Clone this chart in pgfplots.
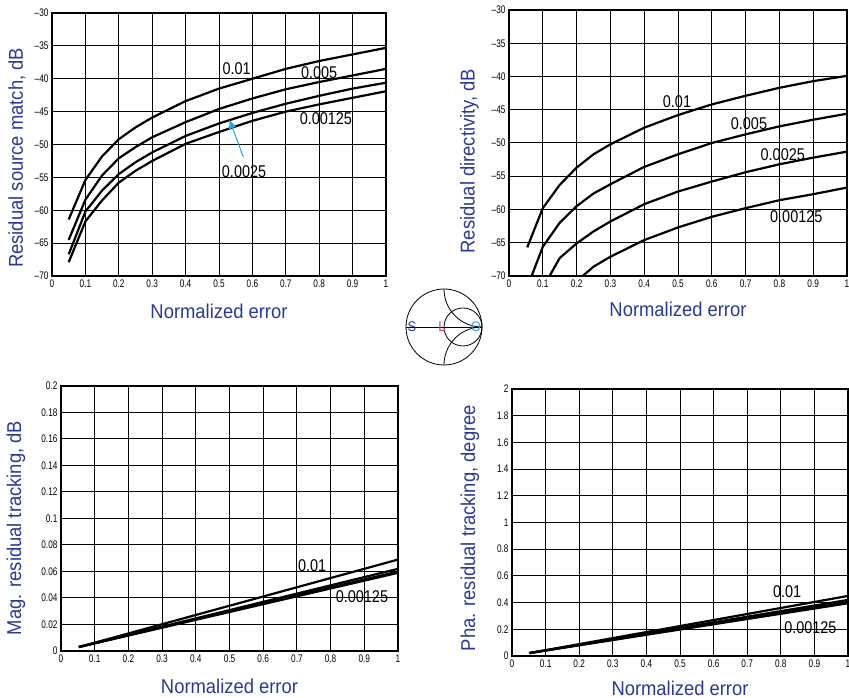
\documentclass[border=0pt]{standalone}
\usepackage{fontspec}
\setmainfont{Liberation Sans}[FakeStretch=0.92]
\newfontfamily\tickfont{Liberation Sans}[FakeStretch=0.75]
\newfontfamily\curvefont{Liberation Sans}[FakeStretch=0.85]
\usepackage{pgfplots}
\pgfplotsset{compat=1.18}
\usetikzlibrary{arrows.meta}
\definecolor{lblue}{RGB}{43,57,144}
\definecolor{arrowblue}{RGB}{41,163,221}
\definecolor{lred}{RGB}{232,56,90}
\tikzset{cl/.style={font=\curvefont\fontsize{17}{18}\selectfont, inner sep=0pt}}
\pgfplotsset{
  chart/.style={
    scale only axis,
    xmin=0, xmax=1,
    xtick={0,0.1,...,1},
    xticklabels={0,0.1,0.2,0.3,0.4,0.5,0.6,0.7,0.8,0.9,1},
    grid=major,
    major grid style={black, line width=1pt},
    axis line style={black, line width=1.2pt},
    major tick length=0pt,
    tick label style={font=\tickfont\fontsize{11}{12}\selectfont},
    /pgf/number format/assume math mode=true,
    label style={font=\fontsize{20}{22}\selectfont, text=lblue},
    xlabel={Normalized error},
    every axis plot post/.append style={black, mark=none, line width=2.2pt},
    clip=true,
  },
}
\begin{document}
\begin{tikzpicture}
% Top-left
\begin{axis}[chart, at={(52pt,422pt)}, anchor=south west, width=334pt, height=263pt,
  ymin=-70, ymax=-30, ytick={-70,-65,...,-30},
  yticklabels={–70,–65,–60,–55,–50,–45,–40,–35,–30},
  xlabel style={at={(axis description cs:0.5,0)}, anchor=center, yshift=-35pt},
  ylabel={Residual source match, dB},
  ylabel style={at={(axis description cs:0,0.449)}, anchor=center, yshift=35pt}]
\addplot coordinates {(0.05,-61.4)(0.1,-55.4)(0.15,-51.8)(0.2,-49.2)(0.25,-47.4)(0.3,-45.9)(0.4,-43.4)(0.5,-41.5)(0.6,-40.0)(0.7,-38.5)(0.8,-37.3)(0.9,-36.3)(1,-35.3)};
\addplot coordinates {(0.05,-64.5)(0.1,-58.4)(0.15,-54.7)(0.2,-52.1)(0.25,-50.4)(0.3,-48.9)(0.4,-46.6)(0.5,-44.6)(0.6,-43.0)(0.7,-41.6)(0.8,-40.5)(0.9,-39.5)(1,-38.5)};
\addplot coordinates {(0.05,-66.7)(0.1,-60.2)(0.15,-57.0)(0.2,-54.5)(0.25,-52.7)(0.3,-51.2)(0.4,-48.7)(0.5,-46.8)(0.6,-45.2)(0.7,-43.8)(0.8,-42.6)(0.9,-41.5)(1,-40.6)};
\addplot coordinates {(0.05,-67.9)(0.1,-61.7)(0.15,-58.5)(0.2,-55.8)(0.25,-54.0)(0.3,-52.5)(0.4,-49.9)(0.5,-48.1)(0.6,-46.4)(0.7,-45.0)(0.8,-43.9)(0.9,-42.9)(1,-41.9)};
\node[cl] at (axis cs:0.553,-38.5) {0.01};
\node[cl] at (axis cs:0.80,-39.1) {0.005};
\node[cl] at (axis cs:0.82,-46.0) {0.00125};
\node[cl] at (axis cs:0.575,-54.2) {0.0025};
\draw[arrowblue, line width=1pt, -{Latex[length=9pt,width=8pt]}] (axis cs:0.573,-51.9) -- (axis cs:0.531,-46.2);
\end{axis}
% Top-right
\begin{axis}[chart, at={(509pt,422pt)}, anchor=south west, width=338pt, height=266pt,
  ymin=-70, ymax=-30, ytick={-70,-65,...,-30},
  yticklabels={–70,–65,–60,–55,–50,–45,–40,–35,–30},
  xlabel style={at={(axis description cs:0.5,0)}, anchor=center, yshift=-33pt},
  ylabel={Residual directivity, dB},
  ylabel style={at={(axis description cs:0,0.432)}, anchor=center, yshift=39.5pt}]
\addplot coordinates {(0.054,-65.7)(0.1,-59.8)(0.15,-56.3)(0.2,-53.7)(0.25,-51.7)(0.3,-50.2)(0.4,-47.7)(0.5,-45.8)(0.6,-44.2)(0.7,-42.9)(0.8,-41.7)(0.9,-40.7)(1,-39.9)};
\addplot coordinates {(0.067,-70)(0.1,-65.6)(0.15,-62.0)(0.2,-59.5)(0.25,-57.6)(0.3,-56.2)(0.4,-53.6)(0.5,-51.7)(0.6,-50.0)(0.7,-48.7)(0.8,-47.5)(0.9,-46.5)(1,-45.6)};
\addplot coordinates {(0.12,-70)(0.15,-67.3)(0.2,-65.1)(0.25,-63.3)(0.3,-61.8)(0.4,-59.2)(0.5,-57.3)(0.6,-55.8)(0.7,-54.4)(0.8,-53.2)(0.9,-52.2)(1,-51.3)};
\addplot coordinates {(0.218,-70)(0.25,-68.6)(0.3,-67.1)(0.4,-64.6)(0.5,-62.7)(0.6,-61.1)(0.7,-59.8)(0.8,-58.6)(0.9,-57.7)(1,-56.7)};
\node[cl] at (axis cs:0.497,-43.8) {0.01};
\node[cl] at (axis cs:0.71,-47.1) {0.005};
\node[cl] at (axis cs:0.81,-51.7) {0.0025};
\node[cl] at (axis cs:0.85,-61.1) {0.00125};
\end{axis}
% Bottom-left
\begin{axis}[chart, at={(61pt,47pt)}, anchor=south west, width=337pt, height=265pt,
  ymin=0, ymax=0.2, ytick={0,0.02,...,0.2},
  yticklabels={0,0.02,0.04,0.06,0.08,0.1,0.12,0.14,0.16,0.18,0.2},
  xlabel style={at={(axis description cs:0.5,0)}, anchor=center, yshift=-35pt},
  ylabel={Mag. residual tracking, dB},
  ylabel style={at={(axis description cs:0,0.464)}, anchor=center, yshift=45pt}]
\addplot coordinates {(0.053,0.003)(1,0.069)};
\addplot coordinates {(0.053,0.003)(1,0.062)};
\addplot coordinates {(0.053,0.003)(1,0.060)};
\addplot coordinates {(0.053,0.003)(1,0.059)};
\node[cl] at (axis cs:0.745,0.0647) {0.01};
\node[cl] at (axis cs:0.893,0.041) {0.00125};
\end{axis}
% Bottom-right
\begin{axis}[chart, at={(512pt,42pt)}, anchor=south west, width=336pt, height=267pt,
  ymin=0, ymax=2, ytick={0,0.2,...,2},
  yticklabels={0,0.2,0.4,0.6,0.8,1,1.2,1.4,1.6,1.8,2},
  xlabel style={at={(axis description cs:0.5,0)}, anchor=center, yshift=-32pt},
  ylabel={Pha. residual tracking, degree},
  ylabel style={at={(axis description cs:0,0.479)}, anchor=center, yshift=42pt}]
\addplot coordinates {(0.052,0.022)(1,0.45)};
\addplot coordinates {(0.052,0.022)(1,0.42)};
\addplot coordinates {(0.052,0.022)(1,0.405)};
\addplot coordinates {(0.052,0.022)(1,0.395)};
\node[cl] at (axis cs:0.819,0.48) {0.01};
\node[cl] at (axis cs:0.888,0.215) {0.00125};
\end{axis}
% Smith chart icon
\begin{scope}[shift={(444pt,371pt)}, line width=0.8pt]
  \def\R{38pt}
  \begin{scope}
    \clip (0,0) circle (\R);
    \draw (\R,\R) circle (\R);
    \draw (\R,-\R) circle (\R);
  \end{scope}
  \draw (0.5*\R,0) circle (0.5*\R);
  \draw (0,0) circle (\R);
  \draw (-\R,0) -- (\R,0);
  \node[text=lblue, font=\fontsize{14}{15}\selectfont, inner sep=0pt] at (-32pt,0) {S};
  \node[text=lred, font=\fontsize{14}{15}\selectfont, inner sep=0pt] at (-2pt,0) {L};
  \node[text=arrowblue, font=\fontsize{14}{15}\selectfont, inner sep=0pt] at (32pt,0) {O};
\end{scope}
\pgfresetboundingbox
\useasboundingbox (0,0) rectangle (849pt,698pt);
\end{tikzpicture}
\end{document}
